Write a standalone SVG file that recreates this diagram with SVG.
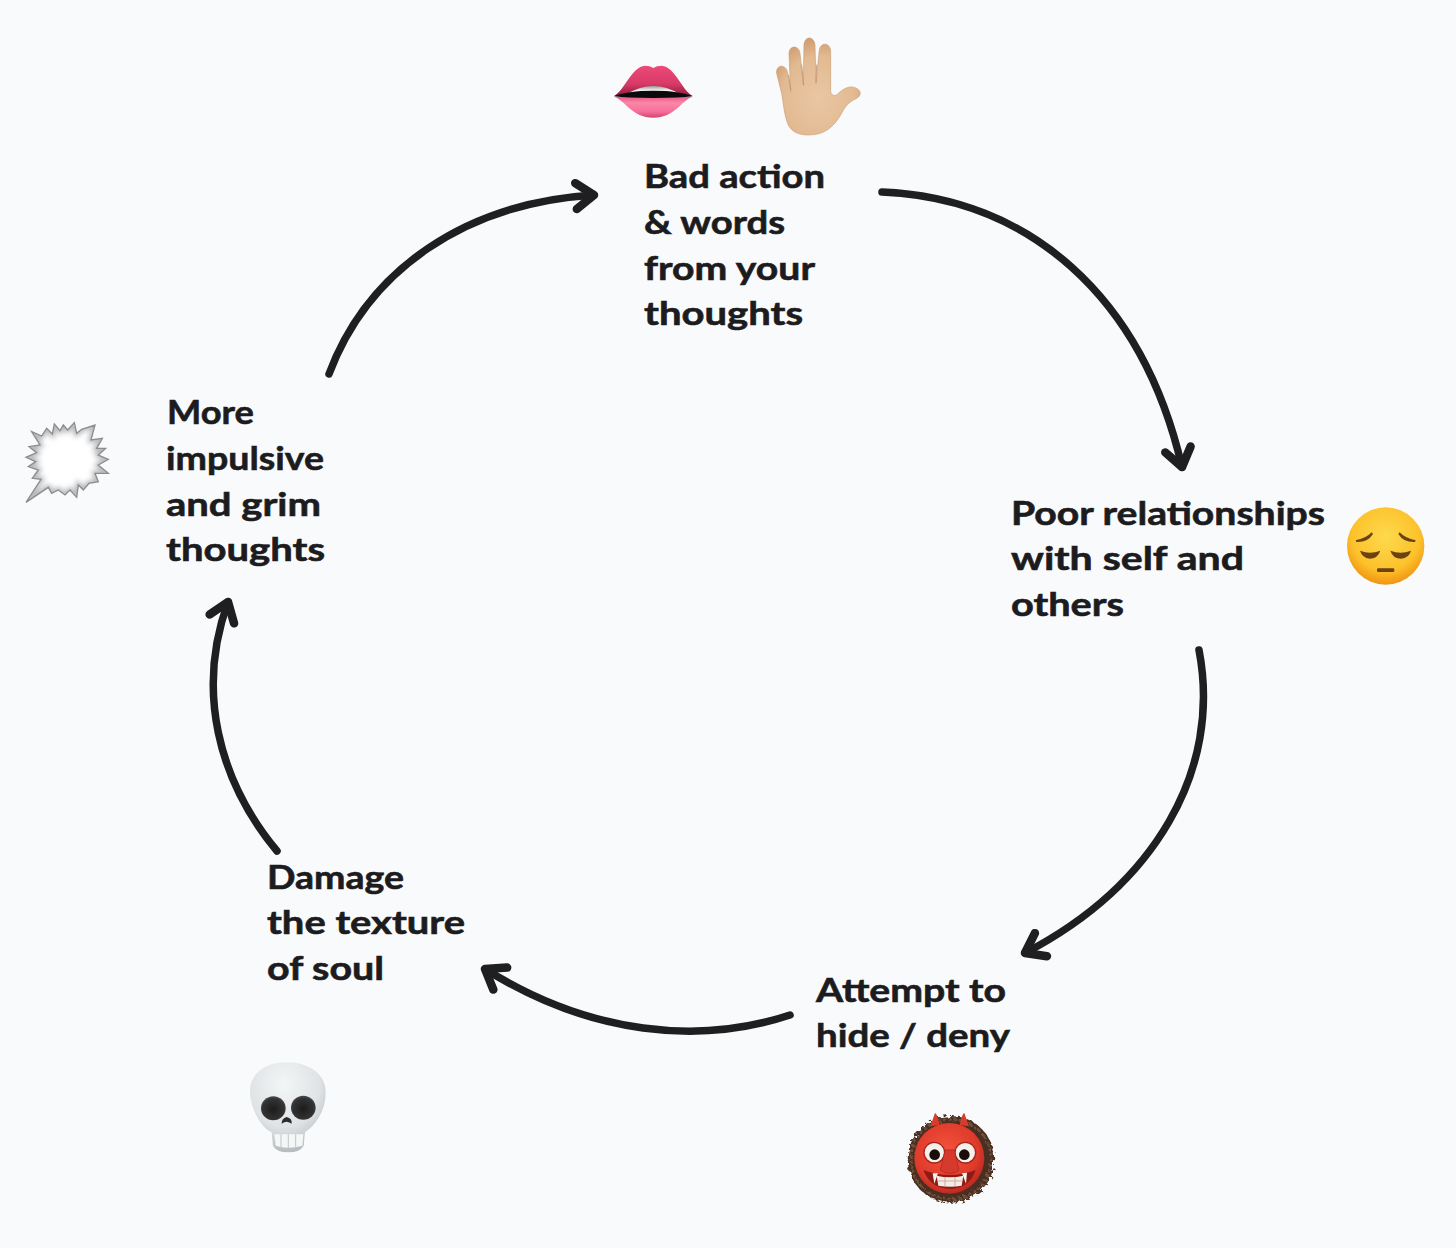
<svg xmlns="http://www.w3.org/2000/svg" width="1456" height="1248" viewBox="0 0 1456 1248">
<style>
text{font-family:"Lato","Noto Sans",sans-serif;font-weight:700;font-size:33px;fill:#1c1c1e;stroke:#1c1c1e;stroke-width:.6px}
.arc{fill:none;stroke:#1f1f21;stroke-width:7.5px;stroke-linecap:round;marker-end:url(#head)}
.gap{fill:none;stroke:#c2936a;stroke-width:2.5;stroke-linecap:round}
.lid{fill:#6b4210}
</style>
<defs>
<marker id="head" markerUnits="userSpaceOnUse" markerWidth="44" markerHeight="44" refX="28" refY="22" orient="auto" overflow="visible">
<path d="M18 14 L28 22 L18 30 Z" fill="#1f1f21"/>
<path d="M10 9 L28 22 L10 35" fill="none" stroke="#1f1f21" stroke-width="8.5" stroke-linecap="round" stroke-linejoin="round"/>
</marker>
<linearGradient id="lipU" x1="0" y1="0" x2="0" y2="1"><stop offset="0" stop-color="#ec4a78"/><stop offset=".6" stop-color="#d93a66"/><stop offset="1" stop-color="#8f1b3e"/></linearGradient>
<linearGradient id="lipL" x1="0" y1="0" x2="0" y2="1"><stop offset="0" stop-color="#e85a88"/><stop offset=".3" stop-color="#fb86a8"/><stop offset=".7" stop-color="#f5719a"/><stop offset="1" stop-color="#d4456f"/></linearGradient>
<linearGradient id="tooth" x1="0" y1="0" x2="0" y2="1"><stop offset="0" stop-color="#9b9b9b"/><stop offset=".6" stop-color="#fff"/></linearGradient>
<radialGradient id="skin" cx=".5" cy=".62" r=".62"><stop offset="0" stop-color="#e9c7a3"/><stop offset=".7" stop-color="#e2ba92"/><stop offset="1" stop-color="#cf9d70"/></radialGradient>
<radialGradient id="face" cx=".5" cy=".38" r=".64"><stop offset="0" stop-color="#fed94e"/><stop offset=".68" stop-color="#fcc22b"/><stop offset="1" stop-color="#ef8f10"/></radialGradient>
<radialGradient id="red" cx=".45" cy=".4" r=".65"><stop offset="0" stop-color="#f4533c"/><stop offset=".7" stop-color="#df3a2b"/><stop offset="1" stop-color="#b3231c"/></radialGradient>
<radialGradient id="bone" cx=".45" cy=".25" r=".85"><stop offset="0" stop-color="#f2f6f7"/><stop offset=".55" stop-color="#dfe3e5"/><stop offset="1" stop-color="#a9adaf"/></radialGradient>
<radialGradient id="socket" cx=".5" cy=".55" r=".55"><stop offset="0" stop-color="#1c1c1c"/><stop offset=".8" stop-color="#333"/><stop offset="1" stop-color="#4b4c4e"/></radialGradient>
<filter id="soft" x="-10%" y="-10%" width="120%" height="120%"><feGaussianBlur stdDeviation="8"/></filter>
<filter id="fuzz" x="-15%" y="-15%" width="130%" height="130%"><feTurbulence type="fractalNoise" baseFrequency=".09" numOctaves="3" seed="4" result="n"/><feDisplacementMap in="SourceGraphic" in2="n" scale="22"/></filter>
<clipPath id="burstClip"><polygon points="50,65 80,78 95,55 112,72 118,42 135,62 145,45 158,60 178,38 185,70 200,58 240,45 228,90 262,85 245,115 272,115 250,135 280,148 250,165 280,190 240,190 250,215 222,220 205,240 190,225 185,262 165,240 150,255 130,240 110,250 100,232 33,277 78,208 52,205 70,180 40,170 62,155 33,142 65,128 42,110 75,105"/></clipPath>
</defs>
<rect width="1456" height="1248" fill="#f9fafc"/>

<g id="connectors">
<path class="arc" d="M882 192 C1028 198 1142 295 1182 467"/>
<path class="arc" d="M1199 650 C1222 770 1155 885 1025 953"/>
<path class="arc" d="M790 1015 C700 1045 590 1035 485 969"/>
<path class="arc" d="M277 851 C218 780 196 690 228 602"/>
<path class="arc" d="M329 374 C368 270 465 203 594 195"/>
</g>

<g id="node-action">
<g id="lips" transform="translate(600 25) scale(.3333)">
<path d="M42 213 C75 195 95 125 135 122 Q150 122 160 129 Q170 122 185 122 C225 125 245 195 278 213 Z" fill="url(#lipU)"/>
<path d="M42 215 C75 225 95 278 160 278 C225 278 245 225 278 215 Z" fill="url(#lipL)"/>
<path d="M80 208 Q160 158 240 208 Z" fill="url(#tooth)"/>
<path d="M42 214 Q80 197 160 197 Q240 197 278 214 Q240 219 160 219 Q80 219 42 214 Z" fill="#0a0a0a"/>
</g>
<g id="hand" transform="translate(600 25) scale(.3333)">
<path d="M565 300 C552 270 550 230 545 205 L530 145 C527 120 555 115 562 140 L572 195 L567 85 C568 60 597 60 600 85 L610 180 L612 60 C614 32 642 32 645 60 L648 175 L658 75 C662 50 692 52 692 80 L692 200 Q695 215 710 210 C725 195 745 180 765 188 C785 195 785 212 770 220 C745 232 735 245 725 265 C700 310 670 330 625 330 C595 330 575 320 565 300 Z" fill="url(#skin)" stroke="#cf9d70" stroke-width="2"/>
<path class="gap" d="M566 150 L573 198 M605 120 L611 180 M650 120 L648 172"/>
</g>
<text x="644" y="188" textLength="181" lengthAdjust="spacingAndGlyphs">Bad action</text>
<text x="644" y="234" textLength="141" lengthAdjust="spacingAndGlyphs">&amp; words</text>
<text x="644" y="280" textLength="171" lengthAdjust="spacingAndGlyphs">from your</text>
<text x="644" y="325" textLength="159" lengthAdjust="spacingAndGlyphs">thoughts</text>
</g>

<g id="node-relationships">
<text x="1011" y="525" textLength="314" lengthAdjust="spacingAndGlyphs">Poor relationships</text>
<text x="1011" y="570" textLength="233" lengthAdjust="spacingAndGlyphs">with self and</text>
<text x="1011" y="616" textLength="113" lengthAdjust="spacingAndGlyphs">others</text>
<g id="pensive" transform="translate(1335 500) scale(.3333)">
<circle cx="152" cy="138" r="116" fill="url(#face)"/>
<path class="lid" d="M62 121 Q92 116 110 97 L114 102 Q98 128 64 126 Z"/>
<path class="lid" d="M190 102 L194 97 Q212 116 242 121 L240 126 Q206 128 190 102 Z"/>
<path class="lid" d="M75 152 Q105 164 136 152 Q128 176 104 176 Q82 174 75 152 Z"/>
<path class="lid" d="M166 152 Q197 164 228 152 Q222 174 198 176 Q174 176 166 152 Z"/>
<rect x="126" y="205" width="52" height="11" rx="4" class="lid"/>
</g>
</g>

<g id="node-hide">
<text x="816" y="1002" textLength="190" lengthAdjust="spacingAndGlyphs">Attempt to</text>
<text x="816" y="1047" textLength="194" lengthAdjust="spacingAndGlyphs">hide / deny</text>
<g id="oni" transform="translate(895 1105) scale(.3333)">
<g filter="url(#fuzz)">
<circle cx="168" cy="163" r="130" fill="#4a2f22"/>
<circle cx="168" cy="163" r="120" fill="none" stroke="#6f4f3a" stroke-width="9" stroke-dasharray="3 13" stroke-linecap="round"/>
</g>
<path d="M106 64 L120 24 Q126 24 134 60 Z M194 60 Q202 24 208 24 L222 64 Z" fill="#d83c2c"/>
<ellipse cx="163" cy="160" rx="105" ry="106" fill="url(#red)"/>
<circle cx="118" cy="143" r="31" fill="#f4f0ec" stroke="#a92319" stroke-width="4"/>
<circle cx="211" cy="143" r="31" fill="#f4f0ec" stroke="#a92319" stroke-width="4"/>
<circle cx="119" cy="149" r="16" fill="#1a0d0a"/>
<circle cx="208" cy="149" r="16" fill="#1a0d0a"/>
<path d="M85 195 Q165 225 242 195 Q225 250 165 252 Q105 250 85 195 Z" fill="#8e1c16"/>
<path d="M125 212 Q165 222 205 212 L200 242 Q165 248 130 242 Z" fill="#f1ece6"/>
<path d="M130 228 L200 228 M150 216 L150 245 M180 216 L180 245" stroke="#c98f80" stroke-width="2" fill="none"/>
<path d="M113 205 L129 205 L118 236 Z M201 205 L216 203 L213 236 Z" fill="#f6f2ec"/>
<path d="M150 135 L178 135 L192 195 Q165 216 136 195 Z" fill="#d63a2c" stroke="#a92319" stroke-width="2"/>
</g>
</g>

<g id="node-damage">
<text x="267" y="889" textLength="137" lengthAdjust="spacingAndGlyphs">Damage</text>
<text x="267" y="934" textLength="198" lengthAdjust="spacingAndGlyphs">the texture</text>
<text x="267" y="980" textLength="117" lengthAdjust="spacingAndGlyphs">of soul</text>
<g id="skull" transform="translate(235 1055) scale(.3333)">
<path d="M155 22 C80 22 42 65 45 115 C47 150 62 180 75 200 Q90 222 110 232 L114 272 Q125 292 160 292 Q195 292 206 272 L210 232 Q235 215 250 190 C265 165 272 140 272 110 C272 60 225 22 155 22 Z" fill="url(#bone)"/>
<ellipse cx="115" cy="160" rx="37" ry="36" fill="url(#socket)"/>
<ellipse cx="205" cy="158" rx="37" ry="36" fill="url(#socket)"/>
<path d="M155 186 Q172 190 170 206 Q160 200 155 200 Q148 200 140 206 Q140 190 155 186 Z" fill="#2b2b2b"/>
<path d="M118 238 L205 238 L202 272 Q160 285 122 272 Z" fill="#f5f6f6"/>
<path d="M138 238 L138 276 M160 238 L160 280 M182 238 L182 276" stroke="#c2c5c7" stroke-width="3" fill="none"/>
</g>
</g>

<g id="node-thoughts">
<g id="burst-bubble" transform="translate(15 410) scale(.3333)">
<polygon points="50,65 80,78 95,55 112,72 118,42 135,62 145,45 158,60 178,38 185,70 200,58 240,45 228,90 262,85 245,115 272,115 250,135 280,148 250,165 280,190 240,190 250,215 222,220 205,240 190,225 185,262 165,240 150,255 130,240 110,250 100,232 33,277 78,208 52,205 70,180 40,170 62,155 33,142 65,128 42,110 75,105" fill="#fff"/>
<g clip-path="url(#burstClip)"><polygon points="50,65 80,78 95,55 112,72 118,42 135,62 145,45 158,60 178,38 185,70 200,58 240,45 228,90 262,85 245,115 272,115 250,135 280,148 250,165 280,190 240,190 250,215 222,220 205,240 190,225 185,262 165,240 150,255 130,240 110,250 100,232 33,277 78,208 52,205 70,180 40,170 62,155 33,142 65,128 42,110 75,105" fill="none" stroke="#b4b6b8" stroke-width="16" filter="url(#soft)"/></g>
<polygon points="50,65 80,78 95,55 112,72 118,42 135,62 145,45 158,60 178,38 185,70 200,58 240,45 228,90 262,85 245,115 272,115 250,135 280,148 250,165 280,190 240,190 250,215 222,220 205,240 190,225 185,262 165,240 150,255 130,240 110,250 100,232 33,277 78,208 52,205 70,180 40,170 62,155 33,142 65,128 42,110 75,105" fill="none" stroke="#8b8d8f" stroke-width="4"/>
</g>
<text x="167" y="424" textLength="87" lengthAdjust="spacingAndGlyphs">More</text>
<text x="166" y="470" textLength="158" lengthAdjust="spacingAndGlyphs">impulsive</text>
<text x="166" y="516" textLength="155" lengthAdjust="spacingAndGlyphs">and grim</text>
<text x="166" y="561" textLength="159" lengthAdjust="spacingAndGlyphs">thoughts</text>
</g>
</svg>
